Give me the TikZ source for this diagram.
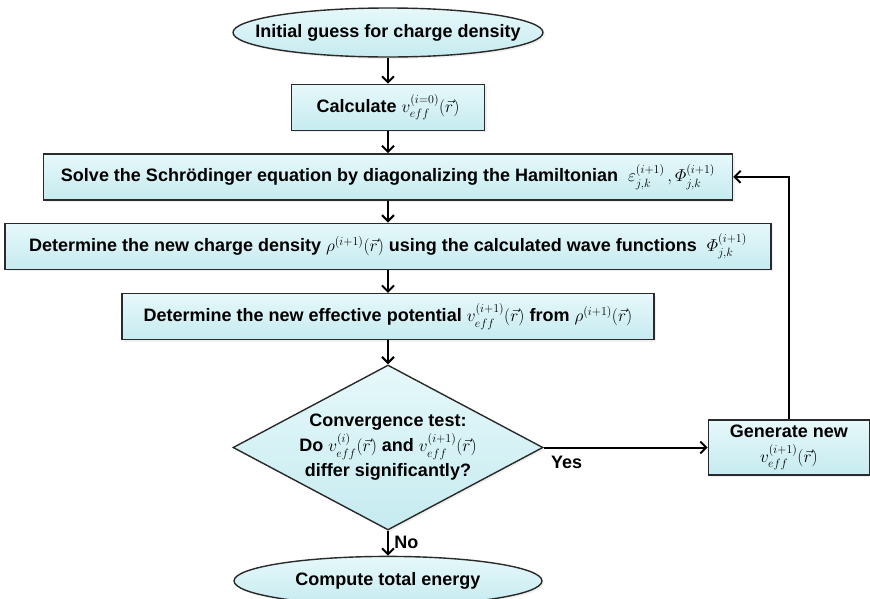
\documentclass[tikz,border=0pt]{standalone}
\usepackage{amsmath,amssymb}
\usepackage{fontspec}
\setmainfont{Liberation Sans}
\usetikzlibrary{arrows.meta,positioning,shapes.geometric,shadows}
\definecolor{boxtop}{HTML}{E6F8FA}
\definecolor{boxbot}{HTML}{C6EBF0}
\definecolor{boxline}{HTML}{2A2A2A}
\newcommand{\veff}[1]{v^{(#1)}_{eff}(\vec{r})}

\begin{document}
\begin{tikzpicture}[
  x=1pt, y=1pt,
  font=\fontsize{18}{25}\selectfont\bfseries,
  box/.style={draw=boxline, line width=1.4pt, top color=boxtop, bottom color=boxbot, align=center, minimum height=46pt, inner sep=4pt, drop shadow={opacity=0.12, shadow xshift=2pt, shadow yshift=-2pt}},
  term/.style={box, ellipse, minimum width=310pt, minimum height=49pt, inner xsep=-40pt},
  test/.style={box, diamond, aspect=1.88, minimum width=310pt, minimum height=165pt, inner sep=-6pt},
  >={Straight Barb[length=6pt, width=12pt, line width=2pt]},
  flow/.style={->, line width=2pt}
]
\useasboundingbox (0,0) rectangle (870,-598);
\node[term] (start) at (388,-32.5) {Initial guess for charge density};
\node[box, minimum width=193pt, below=26pt of start] (calc) {Calculate $\veff{i=0}$};
\node[box, minimum width=689pt, below=22pt of calc] (solve) {Solve the Schrödinger equation by diagonalizing the Hamiltonian\ \ $\varepsilon^{(i+1)}_{j,k}\,, \varPhi^{(i+1)}_{j,k}$};
\node[box, minimum width=766pt, below=22pt of solve] (density) {Determine the new charge density $\rho^{(i+1)}(\vec{r})$ using the calculated wave functions\ \ $\varPhi^{(i+1)}_{j,k}$};
\node[box, minimum width=532pt, below=23pt of density] (potential) {Determine the new effective potential $\veff{i+1}$ from $\rho^{(i+1)}(\vec{r})$};
\node[test, below=24pt of potential] (conv) {Convergence test:\\Do $\veff{i}$ and $\veff{i+1}$\\differ significantly?};
\node[term, minimum width=308pt, below=25pt of conv] (energy) {Compute total energy};
\node[box, minimum width=161pt, minimum height=55pt, right=164pt of conv] (newpot) {Generate new\\$\veff{i+1}$};

\draw[flow] (start) -- (calc);
\draw[flow] (calc) -- (solve);
\draw[flow] (solve) -- (density);
\draw[flow] (density) -- (potential);
\draw[flow] (potential) -- (conv);
\draw[flow] (conv) -- node[pos=0.14, below=4pt] {Yes} (newpot);
\draw[flow] (conv) -- node[pos=0.45, right=2pt] {No} (energy);
\draw[flow] (newpot.north) |- (solve.east);

\end{tikzpicture}
\end{document}
